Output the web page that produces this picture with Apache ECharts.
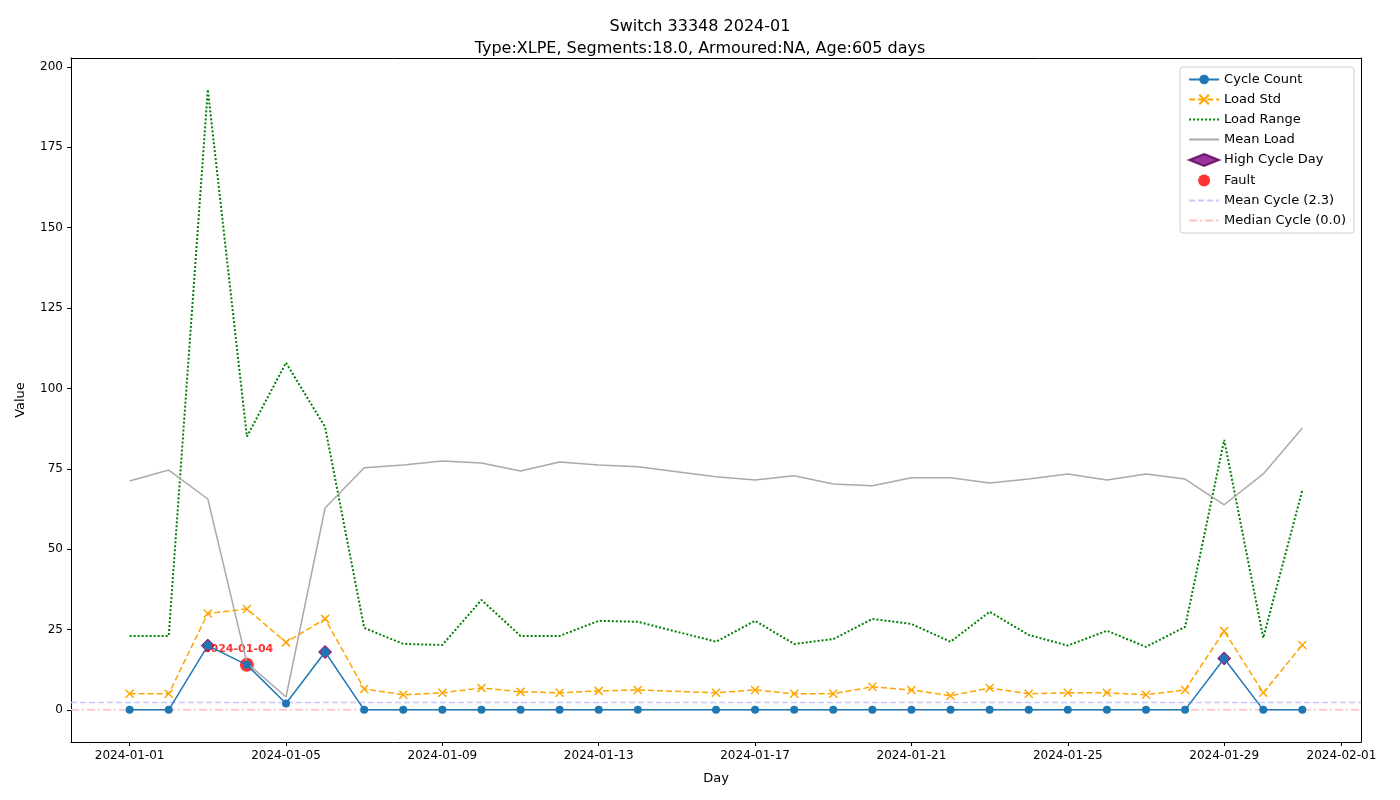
<!DOCTYPE html>
<html>
<head>
<meta charset="utf-8">
<script src="https://cdn.jsdelivr.net/npm/echarts@6/dist/echarts.min.js"></script>
<style>html,body{margin:0;padding:0;background:#fff}#c{width:1400px;height:800px}</style>
</head>
<body>
<div id="c"></div>
<script>
// days present in the data (Jan 15 is missing)
var days = ['2024-01-01','2024-01-02','2024-01-03','2024-01-04','2024-01-05','2024-01-06','2024-01-07','2024-01-08','2024-01-09','2024-01-10','2024-01-11','2024-01-12','2024-01-13','2024-01-14','2024-01-16','2024-01-17','2024-01-18','2024-01-19','2024-01-20','2024-01-21','2024-01-22','2024-01-23','2024-01-24','2024-01-25','2024-01-26','2024-01-27','2024-01-28','2024-01-29','2024-01-30','2024-01-31'];
var cycleCount = [0,0,20,14,2,18,0,0,0,0,0,0,0,0,0,0,0,0,0,0,0,0,0,0,0,0,0,16,0,0];
var loadStd = [5,5,30,31.4,21,28.3,6.5,4.7,5.3,6.8,5.6,5.3,5.9,6.2,5.3,6.2,5,5,7.2,6.2,4.4,6.8,5,5.3,5.3,4.7,6.2,24.5,5.3,20.2];
var loadRange = [23,23,193,85,108,88,25.5,20.5,20.2,34.2,23,23,27.7,27.4,21.2,27.7,20.5,22,28.3,26.7,21.2,30.5,23.3,20,24.6,19.6,25.8,84,22.4,68.4];
var meanLoad = [71.2,74.6,65.6,14.6,4,62.8,75.3,76.2,77.4,76.8,74.3,77.1,76.2,75.6,72.5,71.5,72.8,70.3,69.7,72.2,72.2,70.6,71.8,73.4,71.5,73.4,71.8,63.8,73.4,87.7];
var highDays = ['2024-01-03','2024-01-06','2024-01-29'];
var faultDays = ['2024-01-04'];
var meanCycle = 2.3, medianCycle = 0.0;
var xTickDays = ['2024-01-01','2024-01-05','2024-01-09','2024-01-13','2024-01-17','2024-01-21','2024-01-25','2024-01-29','2024-02-01'];
var yTicks = [0,25,50,75,100,125,150,175,200];

var base = Date.parse('2024-01-01T00:00:00Z');
function dayNum(s){ return (Date.parse(s+'T00:00:00Z') - base) / 86400000; }
var xs = days.map(dayNum);
function pairs(vals){ return xs.map(function(x,i){ return [x, vals[i]]; }); }
function pick(list){ return list.map(function(d){ var i = days.indexOf(d); return [xs[i], cycleCount[i]]; }); }
var xMin = -1.5, xMax = 31.5;
var labelOf = {};
xTickDays.forEach(function(d){ labelOf[dayNum(d)] = d; });

var chart = echarts.init(document.getElementById('c'));
var font = 'DejaVu Sans';
var frame = {show: true, onZero: false, lineStyle: {color: '#000'}};
chart.setOption({
  animation: false,
  textStyle: {fontFamily: font},
  title: {
    text: 'Switch 33348 2024-01\nType:XLPE, Segments:18.0, Armoured:NA, Age:605 days',
    left: 'center', top: 11,
    textStyle: {fontSize: 16, fontWeight: 'normal', color: '#000', lineHeight: 22, fontFamily: font}
  },
  grid: {left: 71, right: 39, top: 58, bottom: 58},
  legend: {
    orient: 'vertical', right: 46, top: 67,
    padding: [6, 8], itemGap: 7, itemWidth: 30, itemHeight: 12,
    borderColor: '#ccc', borderWidth: 1, borderRadius: 3,
    textStyle: {fontSize: 13, color: '#000', fontFamily: font},
    data: ['Cycle Count','Load Std','Load Range','Mean Load','High Cycle Day','Fault','Mean Cycle (2.3)','Median Cycle (0.0)']
  },
  xAxis: [{
    type: 'value', min: xMin, max: xMax,
    name: 'Day', nameLocation: 'middle', nameGap: 30,
    nameTextStyle: {fontSize: 13, color: '#000'},
    splitLine: {show: false},
    axisLine: frame,
    axisTick: {customValues: xTickDays.map(dayNum), length: 4, lineStyle: {color: '#000'}},
    axisLabel: {customValues: xTickDays.map(dayNum), fontSize: 12, color: '#000', formatter: function(v){ return labelOf[v] || ''; }}
  }, {
    type: 'value', min: xMin, max: xMax, position: 'top',
    splitLine: {show: false}, axisLine: frame, axisTick: {show: false}, axisLabel: {show: false}
  }],
  yAxis: [{
    type: 'value', min: -10, max: 202.8,
    name: 'Value', nameLocation: 'middle', nameGap: 44,
    nameTextStyle: {fontSize: 13, color: '#000'},
    splitLine: {show: false},
    axisLine: frame,
    axisTick: {show: true, customValues: yTicks, length: 4, lineStyle: {color: '#000'}},
    axisLabel: {customValues: yTicks, fontSize: 12, color: '#000'}
  }, {
    type: 'value', min: -10, max: 202.8, position: 'right',
    splitLine: {show: false}, axisLine: frame, axisTick: {show: false}, axisLabel: {show: false}
  }],
  series: [
    {name: 'Mean Cycle (2.3)', type: 'line', data: [[xMin, meanCycle],[xMax, meanCycle]], symbol: 'none', lineStyle: {color: '#c8c8ff', type: [6,3], width: 1.5}, itemStyle: {color: '#c8c8ff', opacity: 0}},
    {name: 'Median Cycle (0.0)', type: 'line', data: [[xMin, medianCycle],[xMax, medianCycle]], symbol: 'none', lineStyle: {color: '#ffc0c0', type: [8,3,2,3], width: 1.5}, itemStyle: {color: '#ffc0c0', opacity: 0}},
    {name: 'Load Range', type: 'line', data: pairs(loadRange), symbol: 'none', lineStyle: {color: 'green', type: [2,2], width: 2}, itemStyle: {color: 'green', opacity: 0}},
    {name: 'Mean Load', type: 'line', data: pairs(meanLoad), symbol: 'none', lineStyle: {color: '#aaaaaa', width: 1.5}, itemStyle: {color: '#aaaaaa', opacity: 0}},
    {name: 'Load Std', type: 'line', data: pairs(loadStd), symbol: 'path://M-1,-1L1,1M-1,1L1,-1', symbolSize: 8, lineStyle: {color: 'orange', type: [6,3], width: 1.5}, itemStyle: {color: 'orange', borderColor: 'orange', borderWidth: 1.5}},
    {name: 'Cycle Count', type: 'line', data: pairs(cycleCount), symbol: 'circle', symbolSize: 8, lineStyle: {color: '#1f77b4', width: 1.5}, itemStyle: {color: '#1f77b4'}},
    {name: 'High Cycle Day', type: 'scatter', data: pick(highDays), symbol: 'diamond', symbolSize: 13, itemStyle: {color: 'purple', borderColor: '#5a005a', borderWidth: 1}},
    {name: 'Fault', type: 'scatter', data: pick(faultDays), symbol: 'circle', symbolSize: 14, itemStyle: {color: 'red'},
     label: {show: true, position: [-37, -14], formatter: function(){ return faultDays[0]; }, color: 'red', fontWeight: 'bold', fontSize: 11}}
  ]
});
</script>
</body>
</html>
